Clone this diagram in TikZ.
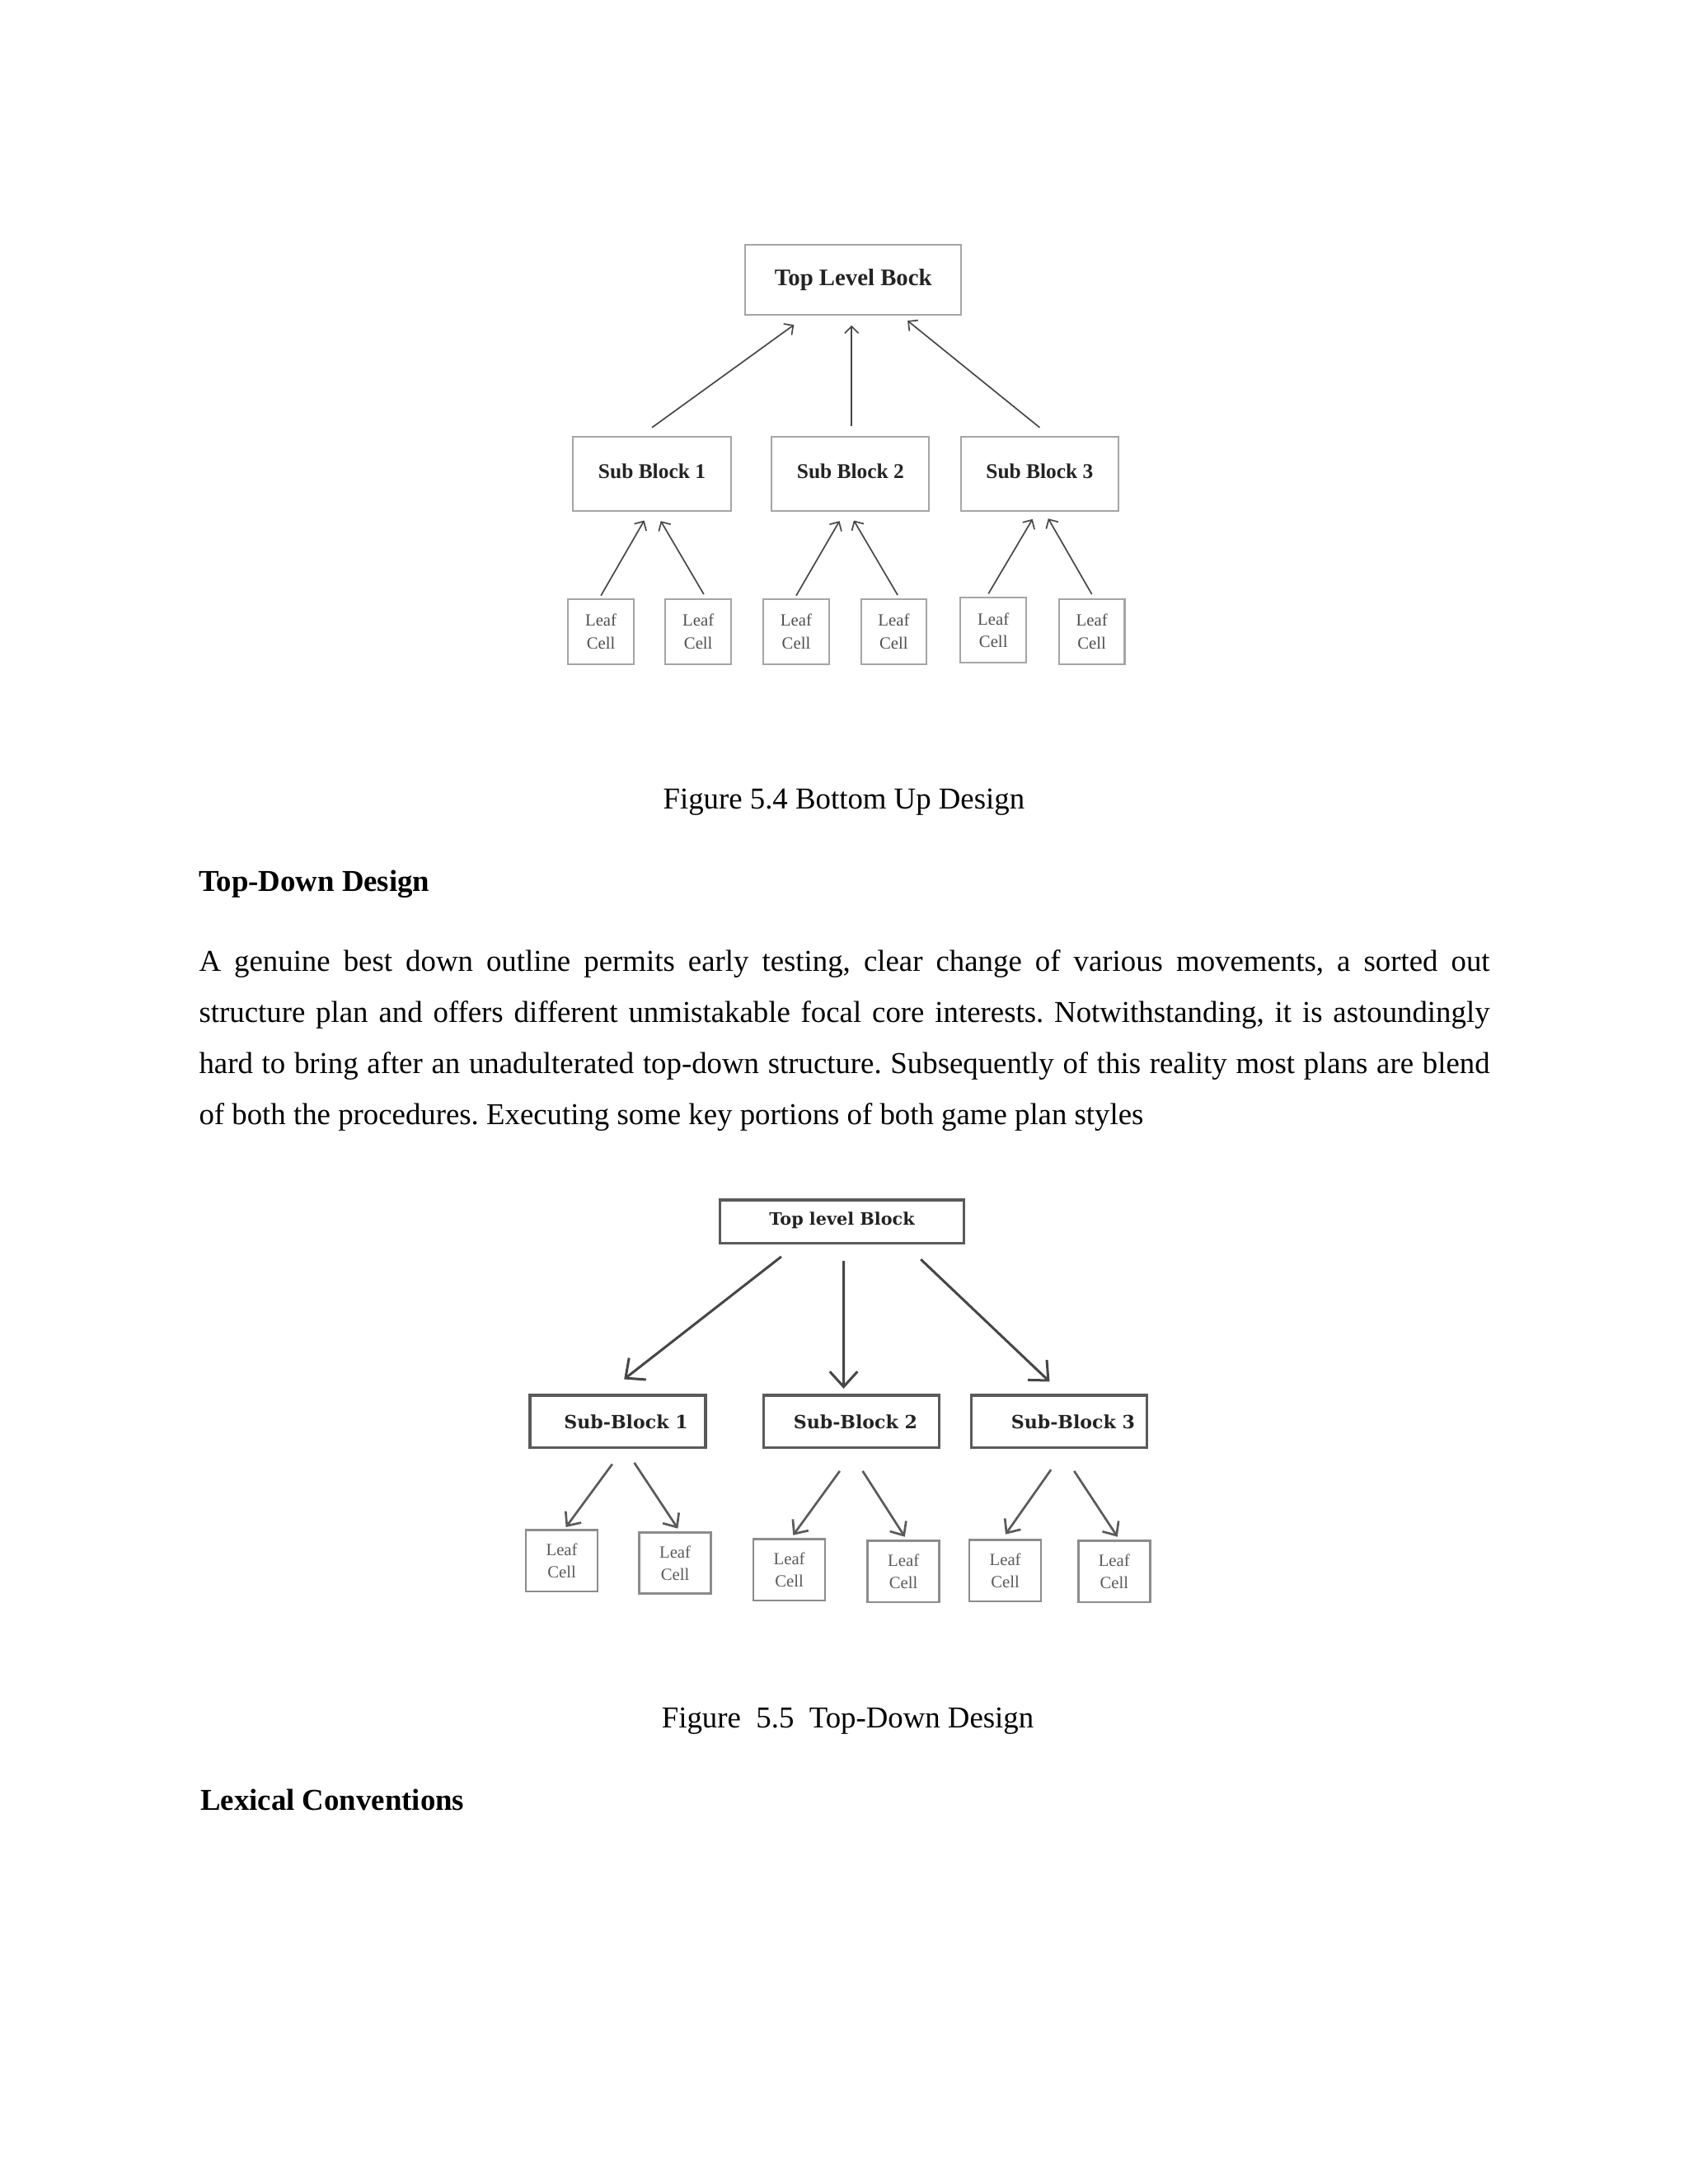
\documentclass[tikz,border=0pt]{standalone}
\usepackage{fontspec}
\setmainfont{Liberation Serif}
\newfontfamily\slabfont{DejaVu Serif}
\usetikzlibrary{arrows.meta}
\definecolor{bc}{RGB}{165, 165, 165}
\definecolor{ac}{RGB}{70, 70, 70}
\definecolor{dc}{RGB}{90, 90, 90}
\definecolor{tc}{RGB}{35, 35, 35}
\frenchspacing

\begin{document}
\begin{tikzpicture}[
txt/.style={inner sep=0pt, font=\fontsize{11}{13}\selectfont},
blk/.style={draw=bc, line width=0.6pt, inner sep=0pt, text=tc, font=\fontsize{7.6}{9}\selectfont\bfseries},
lf/.style={draw=bc, line width=0.6pt, inner sep=0pt, minimum width=23.8pt, minimum height=23.6pt, align=center, text=tc!80, font=\fontsize{6.2}{8.3}\selectfont},
uparr/.style={draw=ac, line width=0.5pt, -{Straight Barb[length=2.5pt, width=5pt]}},
blk2/.style={draw=dc, line width=1pt, inner sep=0pt, minimum width=63.6pt, minimum height=19.1pt, text=tc, font=\slabfont\bfseries\fontsize{6.6}{8}\selectfont},
lf2/.style={draw=bc!85!black, line width=0.8pt, inner sep=0pt, minimum width=26pt, minimum height=22.2pt, align=center, text=tc!75, font=\fontsize{6.2}{8}\selectfont},
dnarr/.style={draw=ac, line width=0.9pt, -{Straight Barb[length=5.5pt, width=10pt]}},
dnarr2/.style={draw=dc, line width=0.8pt, -{Straight Barb[length=4pt, width=7pt]}}
]
\useasboundingbox (0pt, 0pt) rectangle (612pt, -792pt);

% bottom up
\node (1) [blk, minimum width=78.4pt, minimum height=25.4pt, font=\fontsize{8.6}{10}\selectfont\bfseries] at (309.4pt, -101.4pt) {Top Level Bock};
\node (2) [blk, minimum width=57.1pt, minimum height=26.9pt] at (236.4pt, -171.8pt) {\raisebox{2pt}{Sub Block 1}};
\node (3) [blk, minimum width=57.1pt, minimum height=26.9pt] at (308.4pt, -171.8pt) {\raisebox{2pt}{Sub Block 2}};
\node (4) [blk, minimum width=57.1pt, minimum height=26.9pt] at (377.0pt, -171.8pt) {\raisebox{2pt}{Sub Block 3}};
\node (5) [lf] at (217.9pt, -229.1pt) {Leaf\\Cell};
\node (6) [lf] at (253.2pt, -229.1pt) {Leaf\\Cell};
\node (7) [lf] at (288.7pt, -229.1pt) {Leaf\\Cell};
\node (8) [lf] at (324.1pt, -229.1pt) {Leaf\\Cell};
\node (9) [lf] at (360.2pt, -228.6pt) {Leaf\\Cell};
\node (10) [lf] at (395.9pt, -229.1pt) {Leaf\\Cell};
\draw [uparr] ([yshift=3pt]2.north) -- ([xshift=-21.5pt, yshift=-3.4pt]1.south);
\draw [uparr] ([xshift=0.4pt, yshift=3.5pt]3.north) -- ([xshift=-0.6pt, yshift=-3.6pt]1.south);
\draw [uparr] ([yshift=3pt]4.north) -- ([xshift=19.7pt, yshift=-1.9pt]1.south);
\draw [uparr] ([yshift=1pt]5.north) -- ([xshift=-2.8pt, yshift=-3.2pt]2.south);
\draw [uparr] ([xshift=2pt, yshift=1.5pt]6.north) -- ([xshift=3.2pt, yshift=-3.4pt]2.south);
\draw [uparr] ([yshift=1pt]7.north) -- ([xshift=-4pt, yshift=-3.4pt]3.south);
\draw [uparr] ([xshift=1.4pt, yshift=1.2pt]8.north) -- ([xshift=1.2pt, yshift=-3.2pt]3.south);
\draw [uparr] ([xshift=-1.8pt, yshift=1.2pt]9.north) -- ([xshift=-2.6pt, yshift=-2.7pt]4.south);
\draw [uparr] ([yshift=1.5pt]10.north) -- ([xshift=3.1pt, yshift=-2.5pt]4.south);

% text
\node (cap1) [txt, anchor=base] at (306pt, -293.3pt) {Figure 5.4 Bottom Up Design};
\node (head1) [txt, anchor=base west, font=\fontsize{11}{13}\selectfont\bfseries] at (72pt, -323.2pt) {Top-Down Design};
\node (p1) [txt, anchor=base west] at (72pt, -352.1pt) {\hbox to 468pt{A genuine best down outline permits early testing, clear change of various movements, a sorted out}};
\node (p2) [txt, anchor=base west] at (72pt, -370.7pt) {\hbox to 468pt{structure plan and offers different unmistakable focal core interests. Notwithstanding, it is astoundingly}};
\node (p3) [txt, anchor=base west] at (72pt, -389.3pt) {\hbox to 468pt{hard to bring after an unadulterated top-down structure. Subsequently of this reality most plans are blend}};
\node (p4) [txt, anchor=base west] at (72pt, -407.9pt) {of both the procedures. Executing some key portions of both game plan styles};

% top down
\node (11) [blk2, minimum width=88.4pt, minimum height=15.8pt, font=\slabfont\bfseries\fontsize{6.2}{7.5}\selectfont] at (305.3pt, -443pt) {\raisebox{2pt}{Top level Block}};
\node (12) [blk2] at (224.0pt, -515.5pt) {\hspace{6pt}Sub-Block 1};
\node (13) [blk2] at (308.7pt, -515.5pt) {\hspace{3pt}Sub-Block 2};
\node (14) [blk2] at (384.1pt, -515.5pt) {\hspace{10pt}Sub-Block 3};
\node (15) [lf2] at (203.7pt, -566.0pt) {Leaf\\Cell};
\node (16) [lf2] at (244.8pt, -566.8pt) {Leaf\\Cell};
\node (17) [lf2] at (286.2pt, -569.3pt) {Leaf\\Cell};
\node (18) [lf2] at (327.6pt, -569.9pt) {Leaf\\Cell};
\node (19) [lf2] at (364.5pt, -569.6pt) {Leaf\\Cell};
\node (20) [lf2] at (404.0pt, -569.9pt) {Leaf\\Cell};
\draw [dnarr] ([xshift=-22pt, yshift=-4.3pt]11.south) -- ([xshift=2.3pt, yshift=5.3pt]12.north);
\draw [dnarr] ([xshift=0.6pt, yshift=-5.8pt]11.south) -- ([xshift=-2.8pt, yshift=1.9pt]13.north);
\draw [dnarr] ([xshift=28.6pt, yshift=-5.3pt]11.south) -- ([xshift=-3.5pt, yshift=4.4pt]14.north);
\draw [dnarr2] ([xshift=-2pt, yshift=-5.4pt]12.south) -- ([xshift=1.5pt, yshift=0.7pt]15.north);
\draw [dnarr2] ([xshift=6pt, yshift=-4.9pt]12.south) -- ([xshift=1pt, yshift=1pt]16.north);
\draw [dnarr2] ([xshift=-4.2pt, yshift=-7.9pt]13.south) -- ([xshift=1.4pt, yshift=1.1pt]17.north);
\draw [dnarr2] ([xshift=4.1pt, yshift=-7.9pt]13.south) -- ([xshift=0.5pt, yshift=1.1pt]18.north);
\draw [dnarr2] ([xshift=-3pt, yshift=-7.4pt]14.south) -- ([xshift=0.1pt, yshift=1.7pt]19.north);
\draw [dnarr2] ([xshift=5.4pt, yshift=-7.9pt]14.south) -- ([xshift=1.2pt, yshift=1.1pt]20.north);

% text
\node (cap2) [txt, anchor=base] at (307.4pt, -626.5pt) {Figure\ \ 5.5\ \ Top-Down Design};
\node (head2) [txt, anchor=base west, font=\fontsize{11}{13}\selectfont\bfseries] at (72.5pt, -656.4pt) {Lexical Conventions};
\end{tikzpicture}
\end{document}
